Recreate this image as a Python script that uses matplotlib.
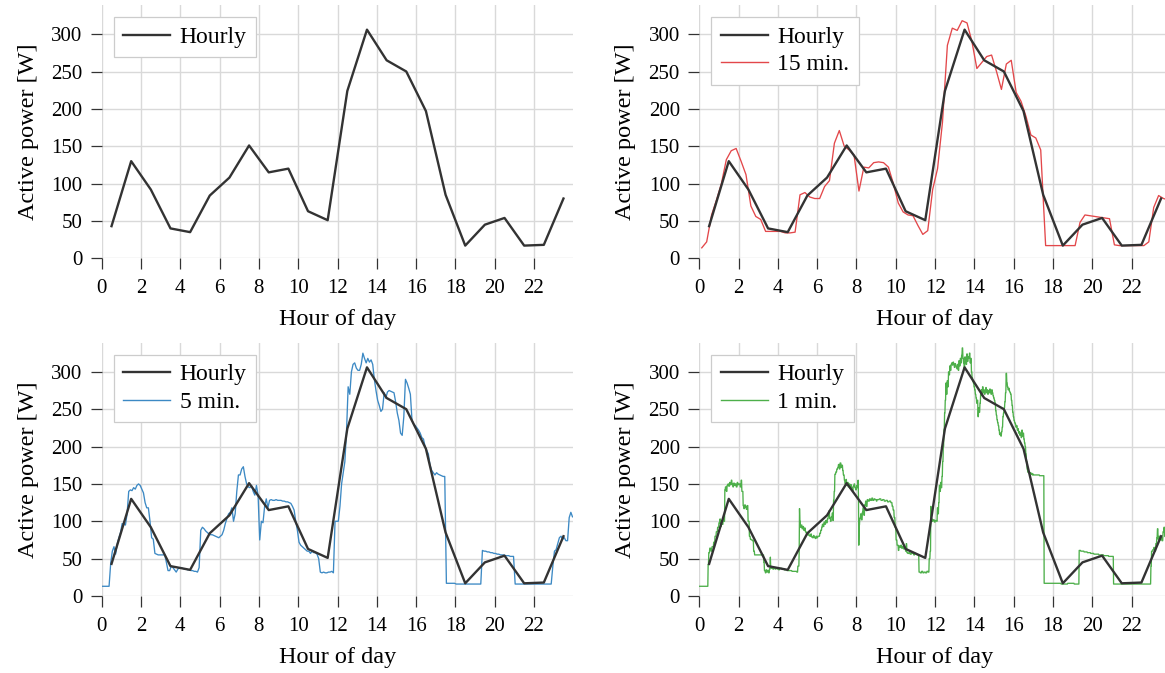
import numpy as np
import matplotlib
matplotlib.use("Agg")
import matplotlib.pyplot as plt

# ---------------- data ----------------
hours_hourly = [0.5 + h for h in range(24)]
hourly = [43, 130, 92, 40, 35, 84, 108, 151, 115, 120, 63, 51,
          224, 306, 265, 250, 197, 85, 17, 45, 54, 17, 18, 80]

min15 = [14, 22, 58, 78,  100, 132, 144, 147,  130, 112, 70, 56,  52, 36, 36, 36,
         36, 34, 34, 35,  85, 88, 82, 80,  80, 96, 104, 154,  171, 150, 145, 138,
         90, 122, 121, 128,  129, 128, 122, 100,  74, 62, 58, 57,  44, 32, 37, 92,
         120, 182, 285, 308,  305, 318, 315, 290,  254, 262, 270, 272,  250, 226, 260, 265,
         222, 210, 190, 165,  161, 145, 17, 17,  17, 17, 17, 17,  17, 48, 58, 57,
         56, 55, 54, 53,  18, 17, 17, 17,  17, 17, 17, 22,  68, 84, 80, 78]

min5 = [13, 13, 13, 13, 13, 44, 60, 66, 56, 70, 78, 85,
        97, 96, 95, 110, 140, 142, 141, 145, 143, 148, 150, 148,
        143, 138, 125, 118, 118, 100, 78, 76, 57, 56, 55, 55,
        55, 55, 55, 45, 34, 34, 40, 38, 35, 32, 36, 38,
        38, 37, 36, 36, 35, 35, 34, 34, 33, 33, 32, 38,
        88, 92, 90, 87, 85, 83, 82, 82, 81, 80, 79, 78,
        80, 82, 88, 97, 104, 110, 112, 118, 100, 110, 140, 162,
        162, 170, 173, 160, 150, 146, 145, 148, 140, 135, 148, 135,
        75, 100, 98, 120, 130, 118, 128, 129, 128, 128, 129, 128,
        128, 128, 127, 127, 126, 126, 125, 124, 120, 115, 100, 88,
        72, 68, 66, 64, 62, 60, 60, 57, 60, 58, 58, 56,
        50, 32, 31, 32, 31, 31, 32, 32, 33, 31, 100, 100,
        100, 120, 150, 165, 180, 220, 280, 270, 300, 310, 312, 305,
        302, 302, 310, 325, 318, 312, 318, 313, 316, 310, 290, 275,
        262, 255, 247, 250, 272, 265, 273, 275, 274, 273, 272, 260,
        245, 235, 218, 215, 240, 290, 285, 278, 270, 235, 230, 228,
        225, 222, 218, 212, 210, 200, 195, 190, 175, 168, 165, 162,
        165, 163, 162, 161, 160, 160, 17, 17, 17, 17, 17, 17,
        16, 16, 16, 16, 16, 16, 16, 16, 16, 16, 16, 16,
        16, 16, 16, 16, 61, 60, 60, 59, 59, 58, 58, 57,
        57, 56, 56, 55, 55, 55, 54, 54, 54, 53, 53, 53,
        16, 16, 16, 16, 16, 16, 16, 16, 16, 16, 16, 16,
        16, 16, 16, 16, 16, 16, 16, 16, 16, 16, 16, 40,
        60, 62, 70, 78, 80, 76, 78, 74, 74, 105, 112, 106]

# 1-minute readings, written as runs of (minutes, watts)
min1_runs = [
    # hour 0
    (27, 13), (2, 42), (3, 58), (4, 64), (3, 60), (5, 66), (4, 72), (4, 80), (4, 86), (4, 92),
    # hour 1
    (3, 98), (2, 103), (3, 93), (2, 101), (3, 96), (2, 105), (3, 100), (2, 142), (3, 146), (2, 140),
    (3, 148), (2, 150), (3, 147), (2, 152), (3, 149), (2, 155), (3, 150), (2, 146), (3, 151), (2, 148),
    (3, 150), (3, 146), (2, 152), (3, 149), (4, 150),
    # hour 2
    (3, 146), (2, 155), (4, 140), (2, 121), (3, 117), (2, 122), (3, 119), (2, 116), (3, 121), (4, 100),
    (3, 80), (3, 76), (4, 75), (3, 74), (3, 60), (16, 55),
    # hour 3
    (12, 55), (2, 45), (3, 34), (2, 31), (3, 35), (2, 32), (3, 34), (2, 31), (3, 36), (1, 52),
    (3, 38), (4, 37), (3, 36), (4, 38), (3, 36), (4, 37), (4, 36), (2, 35),
    # hour 4
    (8, 37), (7, 36), (8, 35), (7, 34), (8, 34), (7, 33), (8, 33), (3, 32), (4, 40),
    # hour 5
    (1, 60), (1, 117), (2, 100), (3, 92), (2, 95), (3, 90), (2, 93), (3, 88), (2, 91), (3, 86),
    (3, 84), (3, 82), (2, 85), (3, 81), (3, 80), (2, 83), (3, 79), (3, 78), (2, 81), (3, 79),
    (3, 77), (2, 80), (3, 78), (3, 80),
    # hour 6
    (3, 80), (3, 84), (3, 88), (2, 92), (3, 96), (2, 93), (3, 99), (2, 96), (3, 101), (2, 98),
    (3, 103), (2, 108), (2, 114), (3, 104), (2, 100), (3, 106), (2, 111), (2, 101), (2, 128), (2, 140),
    (3, 163), (3, 166), (3, 170), (2, 172),
    # hour 7
    (3, 176), (2, 170), (3, 178), (2, 172), (3, 175), (2, 168), (3, 162), (2, 155), (3, 150), (2, 156),
    (3, 148), (2, 152), (3, 146), (2, 150), (3, 144), (2, 149), (3, 145), (2, 140), (3, 147), (2, 150),
    (3, 145), (2, 142), (3, 148), (2, 145),
    # hour 8
    (1, 155), (1, 132), (1, 68), (2, 95), (3, 104), (2, 110), (3, 102), (2, 112), (3, 118), (2, 108),
    (3, 122), (2, 127), (3, 120), (3, 129), (4, 127), (3, 130), (4, 128), (3, 131), (4, 128), (3, 130),
    (4, 129), (2, 127), (2, 129),
    # hour 9
    (5, 129), (5, 130), (5, 128), (5, 129), (5, 127), (5, 128), (5, 126), (5, 127), (4, 125), (3, 120),
    (3, 115), (3, 105), (3, 92), (3, 75), (1, 68),
    # hour 10
    (3, 68), (2, 61), (3, 67), (3, 65), (2, 68), (3, 64), (3, 66), (3, 63), (3, 65), (2, 60),
    (2, 70), (3, 58), (4, 57), (3, 59), (4, 56), (3, 58), (4, 57), (3, 55), (4, 57), (3, 56),
    # hour 11
    (6, 55), (4, 32), (4, 31), (4, 33), (4, 31), (4, 32), (4, 31), (4, 33), (3, 32), (3, 50),
    (2, 60), (1, 120), (3, 104), (3, 100), (4, 102), (3, 99), (4, 101),
    # hour 12
    (2, 100), (2, 118), (2, 110), (2, 125), (2, 148), (2, 140), (2, 152), (2, 145), (2, 160), (2, 180),
    (2, 200), (2, 222), (2, 245), (2, 262), (2, 285), (2, 270), (2, 288), (2, 280), (2, 300), (2, 296),
    (2, 308), (2, 302), (2, 310), (2, 312), (2, 309), (2, 313), (2, 310), (2, 306), (2, 311), (2, 309),
    # hour 13
    (2, 306), (2, 304), (2, 310), (2, 302), (2, 315), (2, 308), (2, 318), (2, 312), (2, 322), (2, 332),
    (2, 318), (2, 312), (2, 305), (2, 320), (2, 316), (2, 310), (2, 324), (2, 314), (2, 320), (2, 318),
    (2, 325), (2, 312), (2, 318), (2, 300), (2, 292), (2, 288), (2, 285), (2, 280), (2, 276), (2, 270),
    # hour 14
    (2, 265), (2, 258), (2, 262), (2, 240), (2, 252), (2, 246), (2, 258), (2, 270), (2, 276), (2, 268),
    (2, 280), (2, 272), (2, 276), (2, 270), (2, 274), (2, 279), (2, 272), (2, 276), (2, 270), (2, 275),
    (2, 272), (2, 277), (2, 274), (2, 270), (2, 276), (2, 272), (2, 268), (2, 265), (2, 262), (2, 258),
    # hour 15
    (2, 248), (2, 242), (2, 236), (2, 232), (2, 228), (2, 222), (2, 216), (2, 218), (2, 214), (2, 220),
    (2, 226), (2, 240), (2, 245), (2, 252), (2, 260), (2, 272), (2, 298), (2, 285), (2, 280), (2, 276),
    (2, 278), (2, 274), (2, 272), (2, 270), (2, 262), (2, 255), (2, 246), (2, 240), (2, 235), (2, 232),
    # hour 16
    (2, 230), (2, 226), (2, 228), (2, 222), (2, 224), (2, 218), (2, 220), (2, 215), (2, 218), (2, 212),
    (2, 222), (2, 214), (2, 218), (2, 210), (2, 205), (2, 200), (2, 190), (2, 180), (2, 170), (2, 166),
    (2, 165), (2, 166), (2, 164), (2, 165), (2, 163), (2, 164), (2, 162), (2, 163), (2, 162), (2, 162),
    # hour 17
    (14, 162), (14, 161), (32, 17),
    # hour 18
    (20, 17), (20, 16), (20, 17),
    # hour 19
    (15, 16), (5, 61), (10, 60), (10, 59), (10, 58), (10, 57),
    # hour 20
    (15, 56), (15, 55), (15, 54), (15, 53),
    # hour 21
    (60, 16),
    # hour 22
    (54, 16), (2, 40), (4, 60),
    # hour 23
    (3, 62), (3, 65), (3, 60), (3, 70), (2, 78), (2, 90), (3, 76), (3, 80), (3, 75), (3, 78),
    (3, 74), (3, 86), (2, 92), (3, 80), (3, 78), (3, 82), (3, 76), (3, 79), (3, 77), (2, 80), (4, 78),
]

xticks = list(range(0, 24, 2))
yticks = [0, 50, 100, 150, 200, 250, 300]

# ---------------- build series ----------------
run_len = np.array([r[0] for r in min1_runs])
run_val = np.array([r[1] for r in min1_runs], dtype=float)
min1 = np.repeat(run_val, run_len)
x1 = np.arange(len(min1)) / 60.0
x5 = (np.arange(len(min5)) + 0.5) / 12.0
x15 = (np.arange(len(min15)) + 0.5) / 4.0

# ---------------- style ----------------
plt.rcParams['font.family'] = ['Liberation Serif', 'DejaVu Serif']

W, H = 1165, 673
fig = plt.figure(figsize=(W / 100, H / 100), dpi=100)

ax_w = 471.6 / W
ax_h = 253.3 / H
lefts = [101.7 / W, 699.3 / W]
bottoms = [1 - 258.3 / H, 1 - 596.0 / H]

dark = '#333333'
series = [
    (None, None, None, None),
    (x15, min15, '15 min.', '#e3474a'),
    (x5, min5, '5 min.', '#3c89c4'),
    (x1, min1, '1 min.', '#4daf4a'),
]

for idx, (xs, ys, lab, col) in enumerate(series):
    r, c = divmod(idx, 2)
    ax = fig.add_axes([lefts[c], bottoms[r], ax_w, ax_h])
    ax.set_facecolor('white')
    ax.plot(hours_hourly, hourly, color=dark, lw=1.7, label='Hourly', zorder=3)
    if xs is not None:
        ax.plot(xs, ys, color=col, lw=0.95, label=lab, zorder=2)
    ax.set_xlim(0, 24)
    ax.set_ylim(0, 339)
    ax.set_xticks(xticks)
    ax.set_yticks(yticks)
    ax.grid(True, color='#d9d9d9', lw=1.0, zorder=0)
    ax.set_axisbelow(True)
    for s in ax.spines.values():
        s.set_visible(False)
    ax.tick_params(axis='both', direction='out', length=8, width=0.9,
                   color=dark, labelsize=15, labelcolor='black')
    ax.tick_params(axis='x', pad=7)
    ax.tick_params(axis='y', pad=6)
    ax.set_xlabel('Hour of day', fontsize=17.5, labelpad=8)
    ax.set_ylabel('Active power [W]', fontsize=17.5, labelpad=9)
    leg = ax.legend(loc='upper left', fontsize=17, frameon=True, fancybox=False,
                    framealpha=1.0, edgecolor='#cccccc', borderaxespad=0.5,
                    handlelength=2.0, handletextpad=0.4, borderpad=0.4,
                    labelspacing=0.25)
    leg.get_frame().set_linewidth(0.9)
    for line in leg.get_lines():
        line.set_linewidth(1.7 if line.get_label() == 'Hourly' else 1.0)

fig.savefig('out.png', dpi=100)
